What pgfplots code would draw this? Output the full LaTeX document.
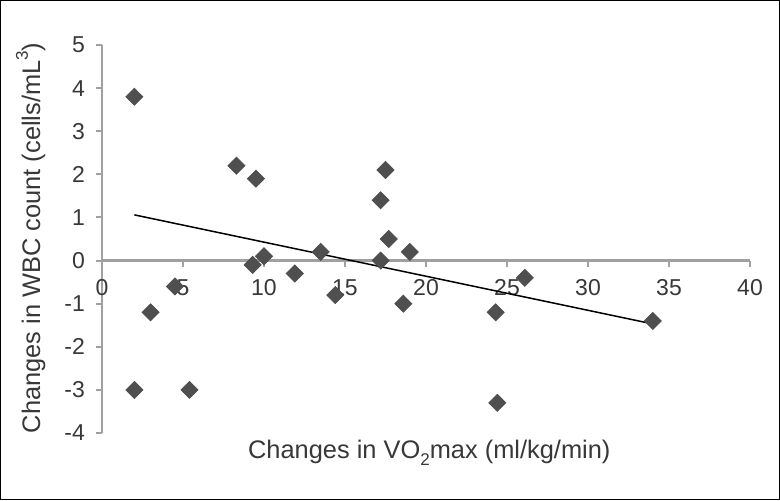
\documentclass[border=0pt]{standalone}
\usepackage{fontspec}
\setmainfont{Liberation Sans}
\usepackage{pgfplots}
\pgfplotsset{compat=1.18}
\definecolor{axgray}{HTML}{A0A0A0}
\definecolor{mk}{HTML}{4F4F4F}
\definecolor{txt}{HTML}{383838}
\newcommand{\mysub}[1]{\raisebox{-0.55ex}{\fontsize{8.5}{8.5}\selectfont #1}}
\newcommand{\mysup}[1]{\raisebox{0.9ex}{\fontsize{8.5}{8.5}\selectfont #1}}
\begin{document}
\begin{tikzpicture}[x=1pt,y=1pt]
\useasboundingbox (-51,-33.5) rectangle (339,216.5);
\draw[black,line width=0.6pt] (-50.7,-33.2) rectangle (338.7,216.2);
\begin{axis}[
  at={(0,0)}, anchor=south west,
  scale only axis, width=324pt, height=194pt,
  xmin=0, xmax=40, ymin=-4, ymax=5,
  axis x line=middle, axis y line=left,
  hide obscured x ticks=false,
  axis line style={axgray, line width=1.1pt, -},
  xtick={0,5,...,40}, ytick={-4,-3,...,5},
  tick style={axgray, line width=1pt},
  major tick length=3pt,
  tick align=outside,
  font=\fontsize{11.5}{13}\selectfont,
  every tick label/.append style={text=txt},
  /pgf/number format/assume math mode=true,
  xticklabel style={yshift=-3pt},
  yticklabel style={xshift=-2pt},
  xlabel={Changes in VO\mysub{2}max (ml/kg/min)},
  ylabel={Changes in WBC count (cells/mL\mysup{3})},
  label style={text=txt, font=\fontsize{12.7}{14}\selectfont},
  xlabel style={at={(axis description cs:0.505,0)}, anchor=center, yshift=-10pt},
  ylabel style={at={(axis description cs:-0.11,0.503)}, anchor=center},
  clip=false,
]
\addplot[only marks, mark=square*, mark size=3pt, mark options={rotate=45, fill=mk, draw=mk}] coordinates {
(2,3.8) (8.3,2.2) (9.5,1.9) (17.5,2.1) (17.2,1.4) (17.7,0.5) (19,0.2) (17.2,0)
(13.5,0.2) (10,0.1) (9.3,-0.1) (11.9,-0.3) (14.4,-0.8) (18.6,-1.0) (4.5,-0.6)
(3,-1.2) (2,-3) (5.4,-3) (26.1,-0.4) (24.3,-1.2) (24.4,-3.3) (34,-1.4)
};
\addplot[black, line width=0.75pt] coordinates {(2,1.06) (34,-1.47)};
\end{axis}
\end{tikzpicture}
\end{document}
